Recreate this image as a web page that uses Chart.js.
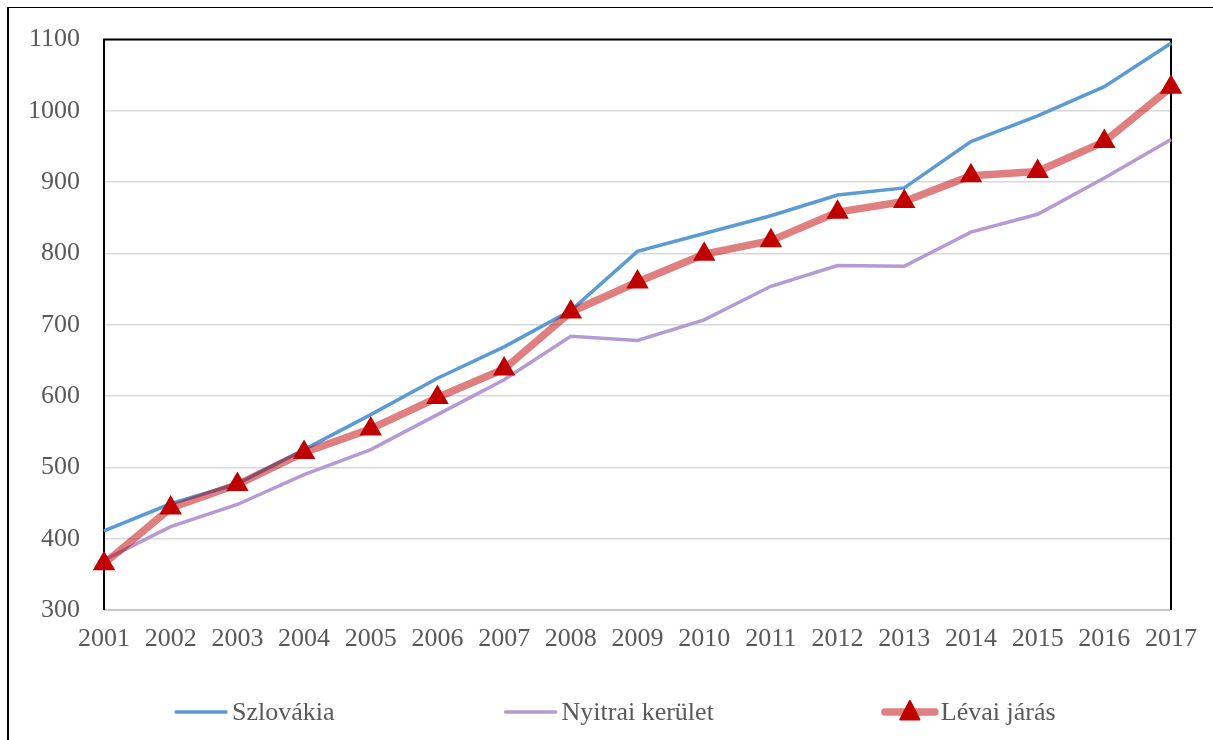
<!DOCTYPE html>
<html>
<head>
<meta charset="utf-8">
<script src="https://cdn.jsdelivr.net/npm/chart.js@4"></script>
<style>
  html, body { margin: 0; padding: 0; background: #fff; }
  #wrap { position: relative; width: 1213px; height: 740px; overflow: hidden; }
  #frame { position: absolute; left: 7px; top: 7px; width: 1300px; height: 800px; border-left: 2px solid #000; border-top: 1px solid #000; box-sizing: border-box; pointer-events: none; }
  canvas { position: absolute; left: 0; top: 0; }
</style>
</head>
<body>
<div id="wrap">
  <canvas id="lineChart" width="1213" height="740"></canvas>
  <div id="frame"></div>
</div>
<script>
const years = ['2001','2002','2003','2004','2005','2006','2007','2008','2009','2010','2011','2012','2013','2014','2015','2016','2017'];
const szlovakia = [411, 449, 477, 525, 574, 625, 669, 720, 803, 828, 853, 882, 892, 957, 993, 1034, 1095];
const nyitrai = [370, 417, 448, 490, 525, 574, 623, 684, 678, 707, 754, 783, 782, 830, 855, 906, 960];
const levai = [365, 443, 476, 521, 554, 598, 638, 718, 760, 799, 818, 858, 873, 909, 915, 957, 1033];
const yTicks = [300, 400, 500, 600, 700, 800, 900, 1000, 1100];

const FONT = 'Liberation Serif, "Times New Roman", serif';
const TEXT = '#595959';

// plot frame: black on left/top/right, gray bottom axis
const frameBorder = {
    id: 'frameBorder',
    beforeDatasetsDraw(chart) {
        const { ctx, chartArea: a } = chart;
        ctx.save();
        ctx.strokeStyle = '#bfbfbf';
        ctx.lineWidth = 1.5;
        ctx.beginPath();
        ctx.moveTo(a.left, a.bottom);
        ctx.lineTo(a.right, a.bottom);
        ctx.stroke();
        ctx.strokeStyle = '#000';
        ctx.lineWidth = 2;
        ctx.beginPath();
        ctx.moveTo(a.left, a.bottom);
        ctx.lineTo(a.left, a.top);
        ctx.lineTo(a.right, a.top);
        ctx.lineTo(a.right, a.bottom);
        ctx.stroke();
        ctx.restore();
    }
};

// legend drawn by hand to get the wide Excel spacing
const bottomLegend = {
    id: 'bottomLegend',
    afterDraw(chart) {
        const { ctx } = chart;
        const y = 712;
        const sample = 54, textGap = 4, gap = 169;
        ctx.save();
        ctx.font = '26px ' + FONT;
        ctx.textBaseline = 'middle';
        const items = chart.data.datasets.map(ds => ({ ds, w: sample + textGap + ctx.measureText(ds.label).width }));
        let x = 174;
        items.forEach(({ ds, w }) => {
            ctx.strokeStyle = ds.borderColor;
            ctx.lineWidth = ds.borderWidth;
            ctx.lineCap = 'round';
            ctx.beginPath();
            ctx.moveTo(x + 2, y);
            ctx.lineTo(x + sample - 2, y);
            ctx.stroke();
            if (ds.pointStyle === 'triangle') {
                const cx = x + sample / 2, r = ds.pointRadius;
                ctx.fillStyle = ds.pointBackgroundColor;
                ctx.strokeStyle = ds.pointBorderColor;
                ctx.lineWidth = ds.pointBorderWidth;
                ctx.lineJoin = 'round';
                ctx.beginPath();
                ctx.moveTo(cx, y - r);
                ctx.lineTo(cx + r * 0.866, y + r / 2 + 2);
                ctx.lineTo(cx - r * 0.866, y + r / 2 + 2);
                ctx.closePath();
                ctx.fill();
                ctx.stroke();
            }
            ctx.fillStyle = TEXT;
            ctx.fillText(ds.label, x + sample + textGap, y + 1);
            x += w + gap;
        });
        ctx.restore();
    }
};

const ctx = document.getElementById('lineChart').getContext('2d');
new Chart(ctx, {
    type: 'line',
    data: {
        labels: years,
        datasets: [
            {
                label: 'Szlovákia',
                data: szlovakia,
                borderColor: '#5b9bd5',
                borderWidth: 3.5,
                pointRadius: 0,
                tension: 0,
                order: 3
            },
            {
                label: 'Nyitrai kerület',
                data: nyitrai,
                borderColor: '#b59ad4',
                borderWidth: 3.5,
                pointRadius: 0,
                tension: 0,
                order: 2
            },
            {
                label: 'Lévai járás',
                data: levai,
                borderColor: 'rgba(192, 0, 0, 0.5)',
                borderWidth: 7.5,
                borderJoinStyle: 'round',
                borderCapStyle: 'round',
                pointStyle: 'triangle',
                pointRadius: 11,
                pointBackgroundColor: '#c00000',
                pointBorderColor: '#c00000',
                pointBorderWidth: 2,
                tension: 0,
                order: 1
            }
        ]
    },
    options: {
        responsive: false,
        animation: false,
        layout: { padding: { top: 35, right: 42, bottom: 70, left: 0 } },
        plugins: {
            legend: { display: false },
            tooltip: { enabled: false }
        },
        scales: {
            x: {
                offset: false,
                grid: { display: false, drawTicks: false },
                border: { display: false },
                ticks: { color: TEXT, font: { family: FONT, size: 26 }, padding: 14, maxRotation: 0, autoSkip: false },
                afterFit(scale) { scale.height = 60; }
            },
            y: {
                min: 300,
                max: 1100,
                afterBuildTicks(scale) { scale.ticks = yTicks.map(v => ({ value: v })); },
                grid: { color: '#d9d9d9', lineWidth: 1.5, drawTicks: false },
                border: { display: false },
                ticks: {
                    color: TEXT,
                    font: { family: FONT, size: 26 },
                    padding: 24,
                    callback: v => String(v)
                },
                afterFit(scale) { scale.width = 104; }
            }
        }
    },
    plugins: [frameBorder, bottomLegend]
});
</script>
</body>
</html>
